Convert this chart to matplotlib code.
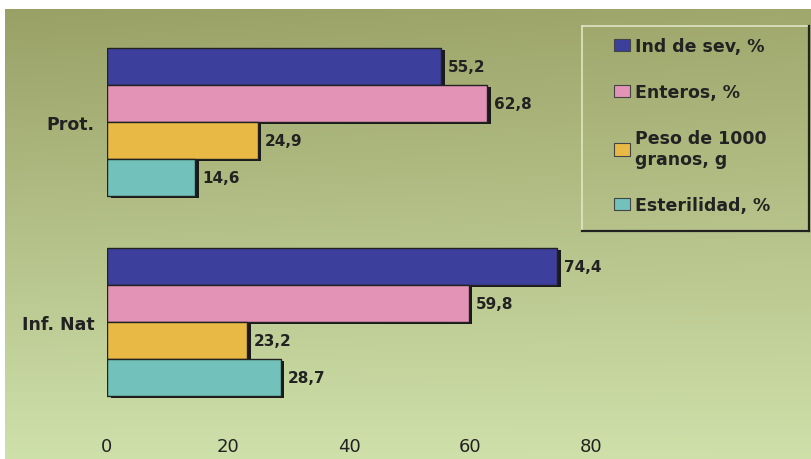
import numpy as np
import matplotlib
matplotlib.use('Agg')
import matplotlib.pyplot as plt
from matplotlib.patches import Patch
from matplotlib.lines import Line2D

plt.rcParams['font.family'] = ['DejaVu Sans']

# Datos
grupos = ['Prot.', 'Inf. Nat']
series = ['Ind de sev, %', 'Enteros, %', 'Peso de 1000\ngranos, g', 'Esterilidad, %']
ind_sev = [55.2, 74.4]
enteros = [62.8, 59.8]
peso_1000 = [24.9, 23.2]
esterilidad = [14.6, 28.7]
xticks = [0, 20, 40, 60, 80]

valores = [ind_sev, enteros, peso_1000, esterilidad]
colores = ['#3d3f9c', '#e394b6', '#e9b945', '#72c2bb']

fig = plt.figure(figsize=(8.12, 4.60), dpi=100)
fig.patch.set_facecolor('white')

# fondo degradado (verde oliva arriba, mas claro abajo)
bg = fig.add_axes([0.006, 0.0, 0.994, 0.978])
grad = np.linspace(0, 1, 256)
top = np.array([0.60, 0.63, 0.40])
bot = np.array([0.81, 0.88, 0.67])
img = top[None, :] * (1 - grad[:, None]) + bot[None, :] * grad[:, None]
side = np.linspace(0, 1, 256)
img2 = img[:, None, :] * (1 - 0.12 * side[None, :, None]) + 0.12 * side[None, :, None] * np.array([0.82, 0.86, 0.62])
bg.imshow(img2, aspect='auto', extent=[0, 1, 0, 1])
bg.axis('off')

ax = fig.add_axes([107 / 812, (460 - 423) / 460, 1 - 107 / 812, 400 / 460])
ax.set_facecolor('none')

alto = 0.185
y = np.arange(len(grupos))
for i, (vals, c) in enumerate(zip(valores, colores)):
    pos = y - 1.5 * alto + i * alto
    # sombra
    ax.barh(pos + 0.012, vals, height=alto, left=0.6, color='#1a1a1a', zorder=2)
    ax.barh(pos, vals, height=alto, color=c, edgecolor='#222222', linewidth=1.0, zorder=3)
    for p, v in zip(pos, vals):
        ax.text(v + 1.1, p, f'{v:.1f}'.replace('.', ','), va='center', ha='left',
                fontsize=11, fontweight='bold', color='#222222', zorder=4)

ax.set_xlim(0, (812 - 107) / 6.05)
ax.set_ylim(1.5, -0.5)
ax.set_xticks(xticks)
ax.set_xticklabels([str(t) for t in xticks], fontsize=13, color='#222222')
ax.set_yticks(y)
ax.set_yticklabels(grupos, fontsize=12.5, fontweight='bold', color='#222222')
ax.tick_params(axis='x', length=0, pad=11)
ax.tick_params(axis='y', length=0, pad=9)
for s in ax.spines.values():
    s.set_visible(False)

# leyenda
handles = [Patch(facecolor=c, edgecolor='#444444', linewidth=0.8) for c in colores]
leg = fig.legend(handles, series, loc='upper left', bbox_to_anchor=(614 / 812, 1 - 38 / 460),
                 frameon=False, fontsize=12.5, handlelength=0.95, handleheight=0.75,
                 handletextpad=0.25, labelspacing=1.62, borderpad=0, borderaxespad=0)
for t in leg.get_texts():
    t.set_fontweight('bold')
    t.set_color('#222222')

# marco de la leyenda
W, H = 812, 460
x0, x1, y0, y1 = 582 / W, 809 / W, 1 - 232 / H, 1 - 27 / H
fig.add_artist(Line2D([x0, x0], [y0, y1], color='#dfe5c6', lw=1.2))
fig.add_artist(Line2D([x0, x1], [y1, y1], color='#dfe5c6', lw=1.2))
fig.add_artist(Line2D([x1, x1], [y0, y1], color='#222222', lw=1.6))
fig.add_artist(Line2D([x0, x1], [y0, y0], color='#222222', lw=1.6))

fig.savefig('out.png', dpi=100)
